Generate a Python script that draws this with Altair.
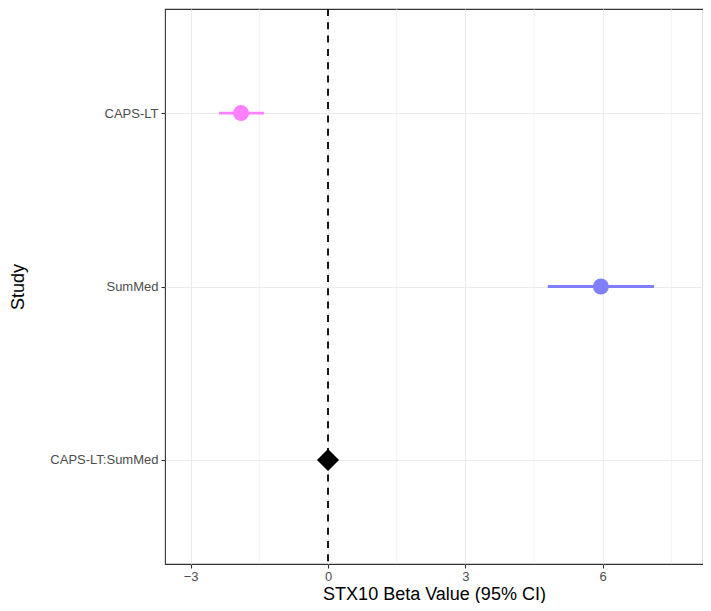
import altair as alt
import pandas as pd

# ---- data ----
studies = ["CAPS-LT", "SumMed", "CAPS-LT:SumMed"]
est_studies = ["CAPS-LT", "SumMed"]
est_beta = [-1.9, 5.96]
est_low = [-2.38, 4.80]
est_high = [-1.40, 7.12]
summary_study = ["CAPS-LT:SumMed"]
summary_beta = [0.0]
point_colors = ["#ff80ff", "#8080ff"]
x_ticks = [-3, 0, 3, 6]
minor_ticks = [-1.5, 1.5, 4.5, 7.5]
x_domain = [-3.56, 8.19]
ref_line = [0]

df_est = pd.DataFrame({"study": est_studies, "beta": est_beta, "lo": est_low, "hi": est_high})
df_sum = pd.DataFrame({"study": summary_study, "beta": summary_beta})
df_minor = pd.DataFrame({"v": minor_ticks})
df_zero = pd.DataFrame({"v": ref_line})

FONT = "Liberation Sans"
PLOT_W = 538
PLOT_H = 555
xs = alt.Scale(domain=x_domain, nice=False, zero=False)
ys = alt.Scale(type="point", domain=studies, padding=0.6)
cs = alt.Scale(domain=est_studies, range=point_colors)

x_axis = alt.Axis(
    values=x_ticks, title="STX10 Beta Value (95% CI)", grid=True,
    gridColor="#ebebeb", gridWidth=1.1, domain=False,
    tickColor="#333333", tickSize=4, tickWidth=1.1,
    labelFontSize=13, labelColor="#4d4d4d", labelPadding=2, labelFont=FONT,
    titleFontSize=18, titleColor="#000000", titleFont=FONT, titleFontWeight="normal",
    titlePadding=2,
)
y_axis = alt.Axis(
    title="Study", grid=True, gridColor="#ebebeb", gridWidth=1.1, domain=False,
    tickColor="#333333", tickSize=4, tickWidth=1.1,
    labelFontSize=13, labelColor="#4d4d4d", labelPadding=3, labelFont=FONT,
    titleFontSize=18, titleColor="#000000", titleFont=FONT, titleFontWeight="normal",
    titleAngle=270, titleX=-147, titleY=PLOT_H / 2, titleAlign="center", titleBaseline="middle",
)

minor = alt.Chart(df_minor).mark_rule(color="#ebebeb", strokeWidth=0.6).encode(
    x=alt.X("v:Q", scale=xs, axis=x_axis)
)

bars = alt.Chart(df_est).mark_rule(strokeWidth=2.8).encode(
    x=alt.X("lo:Q", scale=xs, axis=x_axis),
    x2="hi:Q",
    y=alt.Y("study:N", scale=ys, axis=y_axis, sort=studies),
    color=alt.Color("study:N", scale=cs, legend=None),
)

pts = alt.Chart(df_est).mark_point(shape="circle", filled=True, opacity=1, size=256).encode(
    x=alt.X("beta:Q", scale=xs, axis=x_axis),
    y=alt.Y("study:N", scale=ys, axis=y_axis, sort=studies),
    color=alt.Color("study:N", scale=cs, legend=None),
)

zero = alt.Chart(df_zero).mark_rule(color="#000000", strokeWidth=1.8, strokeDash=[7, 6.3]).encode(
    x=alt.X("v:Q", scale=xs, axis=x_axis)
)

diamond = alt.Chart(df_sum).mark_point(shape="diamond", filled=True, opacity=1, size=484, color="#000000").encode(
    x=alt.X("beta:Q", scale=xs, axis=x_axis),
    y=alt.Y("study:N", scale=ys, axis=y_axis, sort=studies),
)

chart = alt.layer(minor, bars, pts, zero, diamond).properties(
    width=PLOT_W, height=PLOT_H,
    padding={"left": 157, "top": 1, "right": 0, "bottom": 39},
    autosize=alt.AutoSizeParams(type="none"),
    background="#ffffff",
).configure_view(
    stroke="#333333", strokeWidth=1.1
)

chart.save("out.html", embed_options={"renderer": "svg", "actions": False})
